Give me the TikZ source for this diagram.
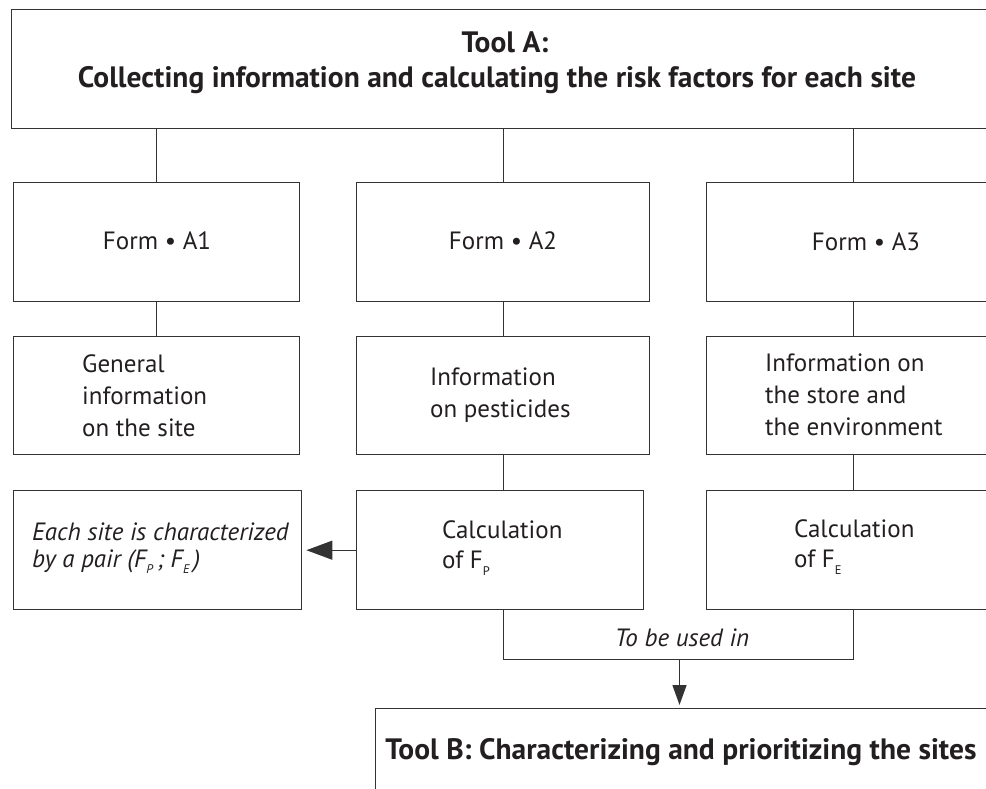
\documentclass[tikz,border=0pt]{standalone}
\usepackage{fontspec}
\setmainfont{PT Sans}
\usetikzlibrary{arrows.meta}
\definecolor{ink}{HTML}{231F20}
\definecolor{edgec}{HTML}{333333}
\newcommand{\lowsub}[1]{\raisebox{-0.5ex}{\fontsize{12.5}{12.5}\selectfont #1}}
\begin{document}
\begin{tikzpicture}[x=1pt,y=-1pt,
  box/.style={draw=edgec, line width=1.4pt, anchor=north west, inner sep=0pt},
  conn/.style={draw=edgec, line width=1.3pt},
  body/.style={text=ink, font=\fontsize{25}{32}\selectfont, inner sep=0pt},
  bodyl/.style={body, align=left, anchor=west},
  head/.style={text=ink, font=\fontsize{29.5}{34}\selectfont\bfseries, inner sep=0pt},
  ital/.style={text=ink, font=\fontsize{25}{27}\selectfont\itshape, inner sep=0pt}]
\useasboundingbox (0,0) rectangle (986,789);
\begin{scope}
\clip (0,0) rectangle (986,789);
% boxes
\node[box, minimum width=1000pt, minimum height=119pt] (top) at (11,9) {};
\node[box, minimum width=286pt, minimum height=118.5pt] (f1) at (13,182) {};
\node[box, minimum width=293pt, minimum height=118.5pt] (f2) at (356,182) {};
\node[box, minimum width=294pt, minimum height=118.5pt] (f3) at (706,182) {};
\node[box, minimum width=286pt, minimum height=118pt] (i1) at (13,336) {};
\node[box, minimum width=293pt, minimum height=118pt] (i2) at (356,336) {};
\node[box, minimum width=294pt, minimum height=118pt] (i3) at (706,336) {};
\node[box, minimum width=288pt, minimum height=119pt] (e1) at (13,490) {};
\node[box, minimum width=287pt, minimum height=119pt] (c2) at (356,490) {};
\node[box, minimum width=294pt, minimum height=119pt] (c3) at (706,490) {};
\node[box, minimum width=640pt, minimum height=120pt] (tb) at (375,708) {};
% connectors
\draw[conn] (f1.north) -- (f1.north |- top.south);
\draw[conn] (f2.north) -- (f2.north |- top.south);
\draw[conn] (f3.north) -- (f3.north |- top.south);
\draw[conn] (f1.south) -- (i1.north);
\draw[conn] (f2.south) -- (i2.north);
\draw[conn] (f3.south) -- (i3.north);
\draw[conn] (i2.south) -- (i2.south |- c2.north);
\draw[conn] (i3.south) -- (c3.north);
\draw[conn, -{Triangle[length=26pt,width=19pt]}, shorten >=4pt] (c2.west) -- (e1.east);
\coordinate (bl) at (503.5,659.5);
\coordinate (am) at (679.5,659.5);
\draw[conn] (c2.south -| bl) -- (bl) -- (bl -| c3.south) -- (c3.south);
\draw[conn, -{Triangle[length=20pt,width=14pt]}, shorten >=3pt] (am) -- (am |- tb.north);
\end{scope}
% texts
\node[head] (t1) at (505,42) {Tool A:};
\node[head] (t2) at (497,80) {Collecting information and calculating the risk factors for each site};
\node[body] (l1) at (157,241) {Form • A1};
\node[body] (l2) at (503,241) {Form • A2};
\node[body] (l3) at (866,242) {Form • A3};
\node[bodyl] (g1) at (82,396) {General\\information\\on the site};
\node[bodyl] (g2) at (430,395) {Information\\on pesticides};
\node[bodyl] (g3) at (765,395) {Information on\\the store and\\the environment};
\node[bodyl, font=\fontsize{25}{30}\selectfont] (k2) at (442,548) {Calculation\\of F\lowsub{P}};
\node[bodyl, font=\fontsize{25}{30}\selectfont] (k3) at (794,547) {Calculation\\of F\lowsub{E}};
\node[ital, align=left, anchor=west] (s1) at (32,548.5) {Each site is characterized\\by a pair (F\lowsub{P}\,; F\lowsub{E}\,)};
\node[ital] (u1) at (682,638) {To be used in};
\node[head] (tbt) at (681,752) {Tool B: Characterizing and prioritizing the sites};
\end{tikzpicture}
\end{document}
